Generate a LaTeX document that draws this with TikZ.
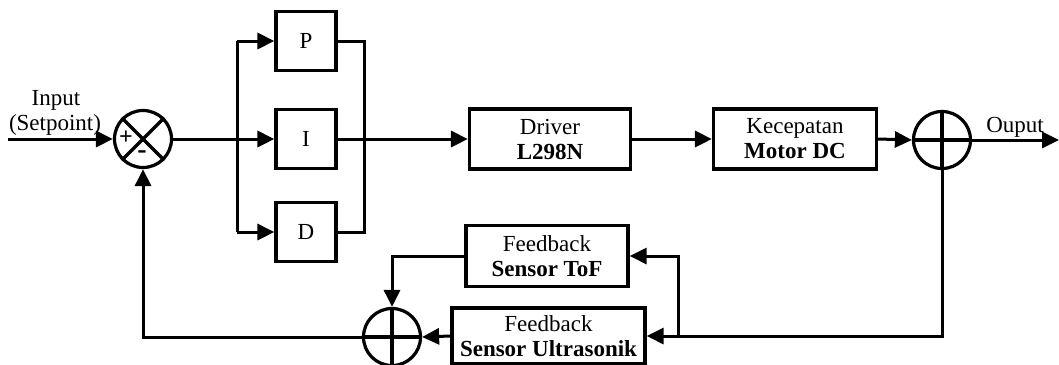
\documentclass[tikz,border=0pt]{standalone}
\usepackage{fontspec}
\setmainfont{Liberation Serif}
\usetikzlibrary{arrows.meta}
\begin{document}
\begin{tikzpicture}[x=1pt,y=-1pt,
  txt/.style={font=\fontsize{23}{25}\selectfont},
  blk/.style={draw, line width=3.2pt, inner sep=0pt, align=center, txt},
  sumj/.style={draw, circle, line width=3.2pt, minimum size=57pt, inner sep=0pt},
  wire/.style={line width=3pt},
  arr/.style={wire, -{Triangle[length=17pt,width=16pt]}},
]
\useasboundingbox (0,0) rectangle (1059,364);
% summing junctions
\node[sumj] (j1) at (143,139) {};
\node[sumj] (j2) at (392,337) {};
\node[sumj] (j3) at (942,140) {};
\draw[line width=3.2pt] (j1.45) -- (j1.225) (j1.135) -- (j1.315);
\draw[line width=3.2pt] (j2.north) -- (j2.south) (j2.west) -- (j2.east);
\draw[line width=3.2pt] (j3.north) -- (j3.south) (j3.west) -- (j3.east);
\node[font=\fontsize{24}{24}\selectfont\bfseries] (plus) at (126,138) {+};
\node[font=\fontsize{28}{28}\selectfont\bfseries] (minus) at (142,155) {-};
% blocks
\node[blk, minimum width=60pt, minimum height=59pt] (P) at (306,41) {P};
\node[blk, minimum width=60pt, minimum height=59pt] (I) at (306,139) {I};
\node[blk, minimum width=60pt, minimum height=59pt] (D) at (306,232) {D};
\node[blk, minimum width=161pt, minimum height=60pt] (drv) at (550,139) {Driver\\\textbf{L298N}};
\node[blk, minimum width=163pt, minimum height=60pt] (mot) at (795,139) {Kecepatan\\\textbf{Motor DC}};
\node[blk, minimum width=162pt, minimum height=61pt] (tof) at (547,256) {Feedback\\\textbf{Sensor ToF}};
\node[blk, minimum width=193pt, minimum height=56pt] (ult) at (548.5,336) {Feedback\\\textbf{Sensor Ultrasonik}};
% labels
\node[txt, anchor=base] (lin) at (56,105) {Input};
\node[txt, anchor=base] (lsp) at (55,130) {(Setpoint)};
\node[txt, anchor=base] (lout) at (1015,132) {Ouput};
% coordinates
\coordinate (in) at (8,139);
\coordinate (out) at (1059,140);
\coordinate (bl) at (237,139);
\coordinate (br) at (364,139);
\coordinate (fb) at (678,336);
% input
\draw[arr] (in) -- (j1.west);
% PID
\draw[arr] (j1.east) -- (I.west);
\draw[wire] (bl |- P.west) -- (bl |- D.west);
\draw[arr] (bl |- P.west) -- (P.west);
\draw[arr] (bl |- D.west) -- (D.west);
\draw[wire] (P.east) -- (br |- P.east) -- (br |- D.east) -- (D.east);
\draw[arr] (I.east) -- (drv.west);
\draw[arr] (drv.east) -- (mot.west);
\draw[arr] (mot.east) -- (j3.west);
\draw[arr] (j3.east) -- (out);
% feedback
\draw[arr] (j3.south) |- (ult.east);
\draw[arr] (fb) |- (tof.east);
\draw[arr] (tof.west) -| (j2.north);
\draw[arr] (ult.west) -- (j2.east);
\draw[arr] (j2.west) -| (j1.south);
\end{tikzpicture}
\end{document}
